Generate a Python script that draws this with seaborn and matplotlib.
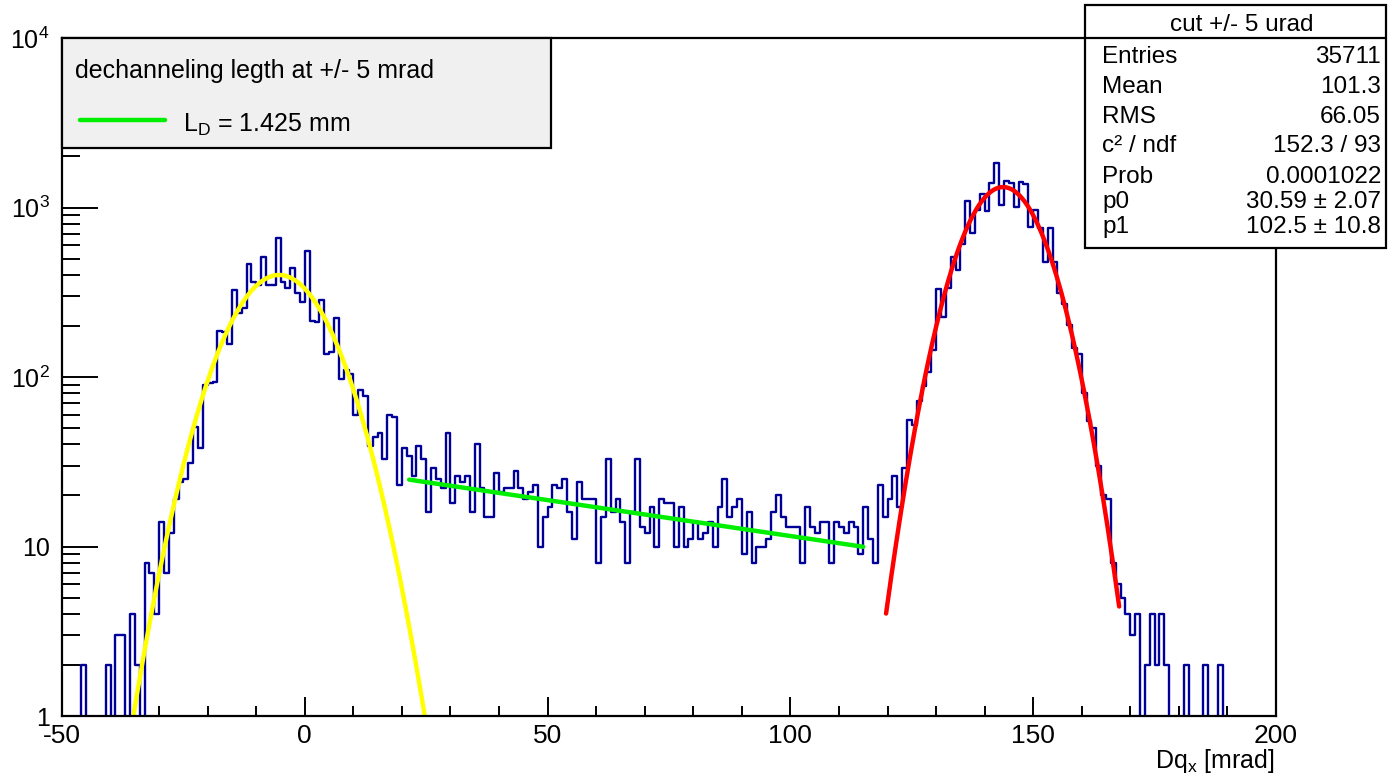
import numpy as np
import pandas as pd
import matplotlib
matplotlib.use("Agg")
import matplotlib.pyplot as plt
import seaborn as sns
from matplotlib.patches import Rectangle
from matplotlib.lines import Line2D
from matplotlib.ticker import FixedLocator, MultipleLocator, LogLocator, NullFormatter

# histogram: 1 urad bins from -50 to 200, counts
x_range = (-50, 200)
counts = [
    0, 0, 0, 0, 2, 0, 0, 0, 0, 2,              # -50 .. -41
    0, 3, 3, 0, 4, 2, 0, 8, 7, 4,              # -40 .. -31
    14, 7, 12, 19, 24, 25, 31, 51, 38, 90,     # -30 .. -21
    92, 93, 188, 185, 156, 324, 238, 256, 465, 362,   # -20 .. -11
    347, 508, 347, 347, 664, 362, 336, 438, 312, 276,  # -10 .. -1
    556, 215, 210, 283, 136, 140, 224, 97, 110, 104,   # 0 .. 9
    60, 84, 77, 39, 44, 47, 33, 60, 58, 23,    # 10 .. 19
    38, 34, 26, 39, 33, 16, 29, 25, 22, 47,    # 20 .. 29
    18, 26, 24, 26, 16, 40, 22, 15, 15, 27,    # 30 .. 39
    21, 22, 22, 28, 22, 19, 21, 23, 10, 15,    # 40 .. 49
    17, 23, 22, 25, 16, 11, 24, 19, 19, 19,    # 50 .. 59
    8, 15, 33, 16, 19, 14, 8, 16, 33, 13,      # 60 .. 69
    12, 17, 10, 19, 18, 18, 10, 17, 10, 11,    # 70 .. 79
    14, 11, 12, 14, 10, 17, 25, 15, 17, 19,    # 80 .. 89
    9, 16, 8, 10, 10, 11, 16, 20, 15, 13,      # 90 .. 99
    13, 13, 8, 17, 13, 12, 14, 14, 8, 14,      # 100 .. 109
    13, 12, 14, 13, 9, 17, 11, 8, 23, 15,      # 110 .. 119
    19, 26, 17, 29, 56, 52, 72, 88, 107, 144,  # 120 .. 129
    330, 225, 335, 510, 427, 612, 1091, 710, 969, 1205,    # 130 .. 139
    955, 1397, 1832, 1028, 1435, 1400, 1010, 1420, 1371, 772,  # 140 .. 149
    969, 756, 478, 756, 478, 315, 271, 204, 148, 136,  # 150 .. 159
    81, 55, 50, 30, 20, 19, 8, 6, 5, 4,        # 160 .. 169
    3, 4, 0, 2, 4, 2, 4, 2, 0, 0,              # 170 .. 179
    0, 2, 0, 0, 0, 2, 0, 0, 2, 0,              # 180 .. 189
    0, 0, 0, 0, 0, 0, 0, 0, 0, 0,              # 190 .. 199
]

# fit results (gaussians, expo from the stat box)
gaus_left = (400.0, -5.3, 8.67)
gaus_left_range = (-37.0, 25.0)
expo_p0 = 30.59
expo_p1 = 102.5
expo_range = (21.5, 115.0)
gaus_right = (1320.0, 143.8, 7.08)
gaus_right_range = (119.7, 167.7)

stat_title = "cut +/- 5 urad"
stat_names = ["Entries", "Mean", "RMS", "c\u00b2 / ndf", "Prob", "p0", "p1"]
stat_values = ["35711", "101.3", "66.05", "152.3 / 93", "0.0001022",
               "30.59 \u00b1 2.07", "102.5 \u00b1 10.8"]

legend_header = "dechanneling legth at +/- 5 mrad"
legend_entry = r"L$_{\mathrm{D}}$ = 1.425 mm"

W, H = 1388, 777

sns.set_style("ticks")
plt.rcParams["font.family"] = ["Liberation Sans", "DejaVu Sans"]
plt.rcParams["mathtext.fontset"] = "custom"
plt.rcParams["mathtext.rm"] = "Liberation Sans"
plt.rcParams["mathtext.it"] = "Liberation Sans:italic"
plt.rcParams["mathtext.bf"] = "Liberation Sans:bold"
plt.rcParams["text.color"] = "black"
plt.rcParams["xtick.color"] = "black"
plt.rcParams["ytick.color"] = "black"
plt.rcParams["axes.edgecolor"] = "black"


def fx(x):
    return x / W


def fy(y):
    return 1 - y / H


fig = plt.figure(figsize=(W / 100, H / 100), dpi=100)
ax = fig.add_axes([fx(62), fy(716), (1276 - 62) / W, (716 - 38) / H])

df = pd.DataFrame({"x": np.arange(x_range[0], x_range[1]) + 0.5, "n": counts})
sns.histplot(data=df, x="x", weights="n", binwidth=1, binrange=x_range,
             element="step", fill=False, color="#000099", linewidth=1.7, ax=ax)

# fit curves
def gaus(x, p):
    return p[0] * np.exp(-0.5 * ((x - p[1]) / p[2]) ** 2)

xl = np.linspace(*gaus_left_range, 400)
sns.lineplot(x=xl, y=gaus(xl, gaus_left), color="#ffff00", linewidth=3.2, ax=ax)
xe = np.linspace(*expo_range, 100)
sns.lineplot(x=xe, y=expo_p0 * np.exp(-xe / expo_p1), color="#00ee00",
             linewidth=3.2, ax=ax)
xr = np.linspace(*gaus_right_range, 300)
sns.lineplot(x=xr, y=gaus(xr, gaus_right), color="#ff0000", linewidth=3.2, ax=ax)

ax.set_yscale("log")
ax.set_xlim(*x_range)
ax.set_ylim(1, 1e4)
ax.set_xlabel("")
ax.set_ylabel("")

ax.xaxis.set_major_locator(FixedLocator([-50, 0, 50, 100, 150, 200]))
ax.xaxis.set_minor_locator(MultipleLocator(10))
ax.set_xticklabels(["-50", "0", "50", "100", "150", "200"])
ax.yaxis.set_major_locator(FixedLocator([1, 10, 100, 1000, 10000]))
ax.set_yticklabels(["1", "10", r"10$^{2}$", r"10$^{3}$", r"10$^{4}$"])
ax.yaxis.set_minor_locator(LogLocator(base=10, subs=np.arange(2, 10)))
ax.yaxis.set_minor_formatter(NullFormatter())

ax.tick_params(axis="x", which="major", direction="in", length=14, width=1.4,
               labelsize=19, pad=6, top=False, colors="black")
ax.tick_params(axis="x", which="minor", direction="in", length=7, width=1.4,
               top=False, colors="black")
ax.tick_params(axis="y", which="major", direction="in", length=26, width=1.4,
               labelsize=18, pad=9, right=False, colors="black")
ax.tick_params(axis="y", which="minor", direction="in", length=13, width=1.4,
               right=False, colors="black")
for s in ax.spines.values():
    s.set_visible(True)
    s.set_color("black")
    s.set_linewidth(1.6)

fig.text(fx(1275), fy(768), r"Dq$_{\mathrm{x}}$ [mrad]", ha="right",
         va="baseline", fontsize=18, color="black")

# legend box
fig.add_artist(Rectangle((fx(62), fy(148)), (551 - 62) / W, (148 - 38) / H,
                         transform=fig.transFigure, facecolor="#f0f0f0",
                         edgecolor="black", linewidth=1.6, zorder=5))
fig.text(fx(75), fy(78), legend_header, fontsize=18, va="baseline",
         color="black", zorder=6)
fig.add_artist(Line2D([fx(80), fx(165)], [fy(120), fy(120)], color="#00ee00",
                      linewidth=3.2, transform=fig.transFigure, zorder=6))
fig.text(fx(183), fy(132), legend_entry, fontsize=18, va="baseline",
         color="black", zorder=6)

# stat box
fig.add_artist(Rectangle((fx(1085), fy(248)), (1386 - 1085) / W, (248 - 5) / H,
                         transform=fig.transFigure, facecolor="white",
                         edgecolor="black", linewidth=1.6, zorder=5))
fig.add_artist(Line2D([fx(1085), fx(1386)], [fy(38), fy(38)], color="black",
                      linewidth=1.6, transform=fig.transFigure, zorder=6))
fig.text(fx(1242), fy(31), stat_title, fontsize=17.5, ha="center",
         va="baseline", color="black", zorder=6)
baselines = [63, 93, 123, 152, 183, 208, 233]
for name, val, yb in zip(stat_names, stat_values, baselines):
    fig.text(fx(1102), fy(yb), name, fontsize=17.5, va="baseline",
             color="black", zorder=6)
    fig.text(fx(1381), fy(yb), val, fontsize=17.5, ha="right", va="baseline",
             color="black", zorder=6)

fig.savefig("out.png", dpi=100)
